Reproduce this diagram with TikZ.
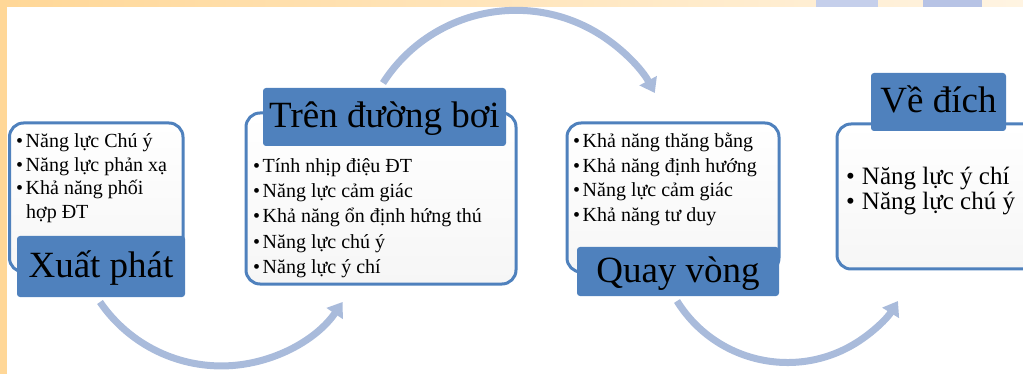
\documentclass[tikz,border=0pt]{standalone}
\usepackage{fontspec}
\setmainfont{Liberation Serif}
\usetikzlibrary{arrows.meta}
\definecolor{bandorange}{HTML}{FFD797}
\definecolor{bandlight}{HTML}{FFF4E2}
\definecolor{bandblueA}{HTML}{C5CFEB}
\definecolor{bandblueB}{HTML}{B7C3E5}
\definecolor{labelblue}{HTML}{4F81BD}
\definecolor{flowblue}{HTML}{A9BBDB}
\definecolor{panelgray}{HTML}{F6F6F6}
\tikzset{
  panel/.style={draw=labelblue, line width=3pt, rounded corners=14pt,
    top color=white, bottom color=panelgray, inner sep=0pt},
  labelbox/.style={fill=labelblue, rounded corners=3pt, inner sep=0pt,
    font=\fontsize{37}{40}\selectfont, text height=31pt, text depth=9pt},
  itemline/.style={anchor=base west, inner sep=0pt, font=\fontsize{20}{24}\selectfont},
  bigitem/.style={anchor=base west, inner sep=0pt, font=\fontsize{25}{28}\selectfont},
  flow/.style={draw=flowblue, line width=7pt, -{Triangle[width=19pt,length=14pt]}}
}
\newcommand{\bul}{\textbullet\hspace{2.5pt}}
\begin{document}
\begin{tikzpicture}[x=1pt,y=-1pt]
\useasboundingbox (0,0) rectangle (1023,374);
\clip (0,0) rectangle (1023,374);
% background bands
\shade[left color=bandorange, right color=bandlight] (0,0) rectangle (1023,7);
\fill[bandorange] (0,0) rectangle (7,374);
\fill[bandblueA] (816,0) rectangle (878,7);
\fill[bandblueB] (923,0) rectangle (982,7);
% arrow start points
\coordinate (s1) at (100,302);
\coordinate (s2) at (383,83);
\coordinate (s3) at (677,301);
\draw[flow] (s1) arc[start angle=145.6, end angle=34.4, radius=147];
\draw[flow] (s2) arc[start angle=212.7, end angle=331.5, radius=158];
\draw[flow] (s3) arc[start angle=148.2, end angle=31.8, radius=130];
% panels
\node[panel, minimum width=173.5pt, minimum height=149pt] (p1) at (96.25,197.5) {};
\node[panel, minimum width=270pt, minimum height=171pt] (p2) at (381,198.5) {};
\node[panel, minimum width=212pt, minimum height=149pt] (p3) at (673,197.5) {};
\node[panel, minimum width=223pt, minimum height=145pt] (p4) at (948.5,196.5) {};
% labels
\node[labelbox, minimum width=168pt, minimum height=61pt] (l1) at (101,266.5) {Xuất phát};
\node[labelbox, minimum width=243pt, minimum height=58pt] (l2) at (384.5,117) {Trên đường bơi};
\node[labelbox, minimum width=202pt, minimum height=49pt] (l3) at (678,271.5) {Quay vòng};
\node[labelbox, minimum width=135pt, minimum height=58pt] (l4) at (938.5,102) {Về đích};
% panel 1 items
\node[itemline] (t1a) at (16,148) {\bul Năng lực Chú ý};
\node[itemline] (t1b) at (16,171.5) {\bul Năng lực phản xạ};
\node[itemline] (t1c) at (16,195) {\bul Khả năng phối};
\node[itemline] (t1d) at (26,218.5) {hợp ĐT};
% panel 2 items
\node[itemline] (t2a) at (253,173) {\bul Tính nhịp điệu ĐT};
\node[itemline] (t2b) at (253,198) {\bul Năng lực cảm giác};
\node[itemline] (t2c) at (253,223) {\bul Khả năng ổn định hứng thú};
\node[itemline] (t2d) at (253,248) {\bul Năng lực chú ý};
\node[itemline] (t2e) at (253,273) {\bul Năng lực ý chí};
% panel 3 items
\node[itemline] (t3a) at (573,148) {\bul Khả năng thăng bằng};
\node[itemline] (t3b) at (573,172.5) {\bul Khả năng định hướng};
\node[itemline] (t3c) at (573,197) {\bul Năng lực cảm giác};
\node[itemline] (t3d) at (573,221.5) {\bul Khả năng tư duy};
% panel 4 items
\node[bigitem] (t4a) at (846,185) {\textbullet\hspace{7pt}Năng lực ý chí};
\node[bigitem] (t4b) at (846,210) {\textbullet\hspace{7pt}Năng lực chú ý};
\end{tikzpicture}
\end{document}
